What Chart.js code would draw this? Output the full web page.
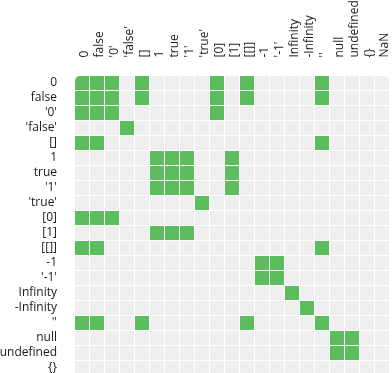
<!DOCTYPE html>
<html>
<head>
<meta charset="utf-8">
<script src="https://cdn.jsdelivr.net/npm/chart.js@4/dist/chart.umd.min.js"></script>
<style>
html, body { margin: 0; padding: 0; overflow: hidden; background: #fff; width: 392px; height: 373px; }
#wrap { position: relative; width: 392px; height: 391px; }
</style>
</head>
<body>
<div id="wrap"><canvas id="c"></canvas></div>
<script>
// Values in JavaScript loose-equality order
const labels = ["0", "false", "'0'", "'false'", "[]", "1", "true", "'1'", "'true'", "[0]", "[1]", "[[]]", "-1", "'-1'", "Infinity", "-Infinity", "''", "null", "undefined", "{}", "NaN"];
const rowLabels = labels;
const colLabels = labels;
// For each row: indices of columns where row == column is true
const equalCols = [
  [0, 1, 2, 4, 9, 11, 16],   // 0
  [0, 1, 2, 4, 9, 11, 16],   // false
  [0, 1, 2, 9],              // '0'
  [3],                       // 'false'
  [0, 1, 16],                // []
  [5, 6, 7, 10],             // 1
  [5, 6, 7, 10],             // true
  [5, 6, 7, 10],             // '1'
  [8],                       // 'true'
  [0, 1, 2],                 // [0]
  [5, 6, 7],                 // [1]
  [0, 1, 16],                // [[]]
  [12, 13],                  // -1
  [12, 13],                  // '-1'
  [14],                      // Infinity
  [15],                      // -Infinity
  [0, 1, 4, 11, 16],         // ''
  [17, 18],                  // null
  [17, 18],                  // undefined
  [],                        // {}
  []                         // NaN
];

const GREEN = '#5cbd5c';
const GRAY = '#efefef';
const HALF = 0.5 - 1 / 30;
const FONT = { family: "'Open Sans', sans-serif", size: 12 };

const datasets = colLabels.map((cl, c) => ({
  label: cl,
  data: rowLabels.map(() => [c - HALF, c + HALF]),
  backgroundColor: rowLabels.map((rl, r) => equalCols[r].includes(c) ? GREEN : GRAY),
  borderSkipped: false,
  borderWidth: 0,
  inflateAmount: 0,
  grouped: false,
  barThickness: 14,
  borderRadius: (ctx) => {
    if (ctx.dataIndex === 0 && c === 0) return { topLeft: 5, topRight: 0, bottomLeft: 0, bottomRight: 0 };
    if (ctx.dataIndex === 0 && c === colLabels.length - 1) return { topLeft: 0, topRight: 5, bottomLeft: 0, bottomRight: 0 };
    return 0;
  }
}));

function noPad(s) {
  s.paddingLeft = 0; s.paddingRight = 0; s.paddingTop = 0; s.paddingBottom = 0;
}

new Chart(document.getElementById('c'), {
  type: 'bar',
  data: { labels: rowLabels, datasets },
  options: {
    indexAxis: 'y',
    responsive: true,
    maintainAspectRatio: false,
    animation: false,
    layout: { padding: { top: 0, left: 0, right: 2.5, bottom: 0.5 } },
    plugins: { legend: { display: false }, tooltip: { enabled: false } },
    scales: {
      x: {
        type: 'linear',
        position: 'top',
        min: -0.5,
        max: colLabels.length - 0.5,
        grid: { display: false, drawTicks: false },
        border: { display: false },
        afterBuildTicks: (s) => { s.ticks = colLabels.map((_, i) => ({ value: i })); },
        afterFit: (s) => { s.height = 75.5; noPad(s); },
        ticks: {
          autoSkip: false,
          minRotation: 90,
          maxRotation: 90,
          padding: 18,
          labelOffset: 17,
          color: '#1a1a1a',
          font: FONT,
          callback: (v) => colLabels[v]
        }
      },
      y: {
        type: 'category',
        position: 'left',
        grid: { display: false, drawTicks: false },
        border: { display: false },
        afterFit: (s) => { s.width = 74.5; noPad(s); },
        ticks: {
          autoSkip: false,
          padding: 17.5,
          color: '#1a1a1a',
          font: FONT
        }
      }
    }
  }
});
</script>
</body>
</html>
